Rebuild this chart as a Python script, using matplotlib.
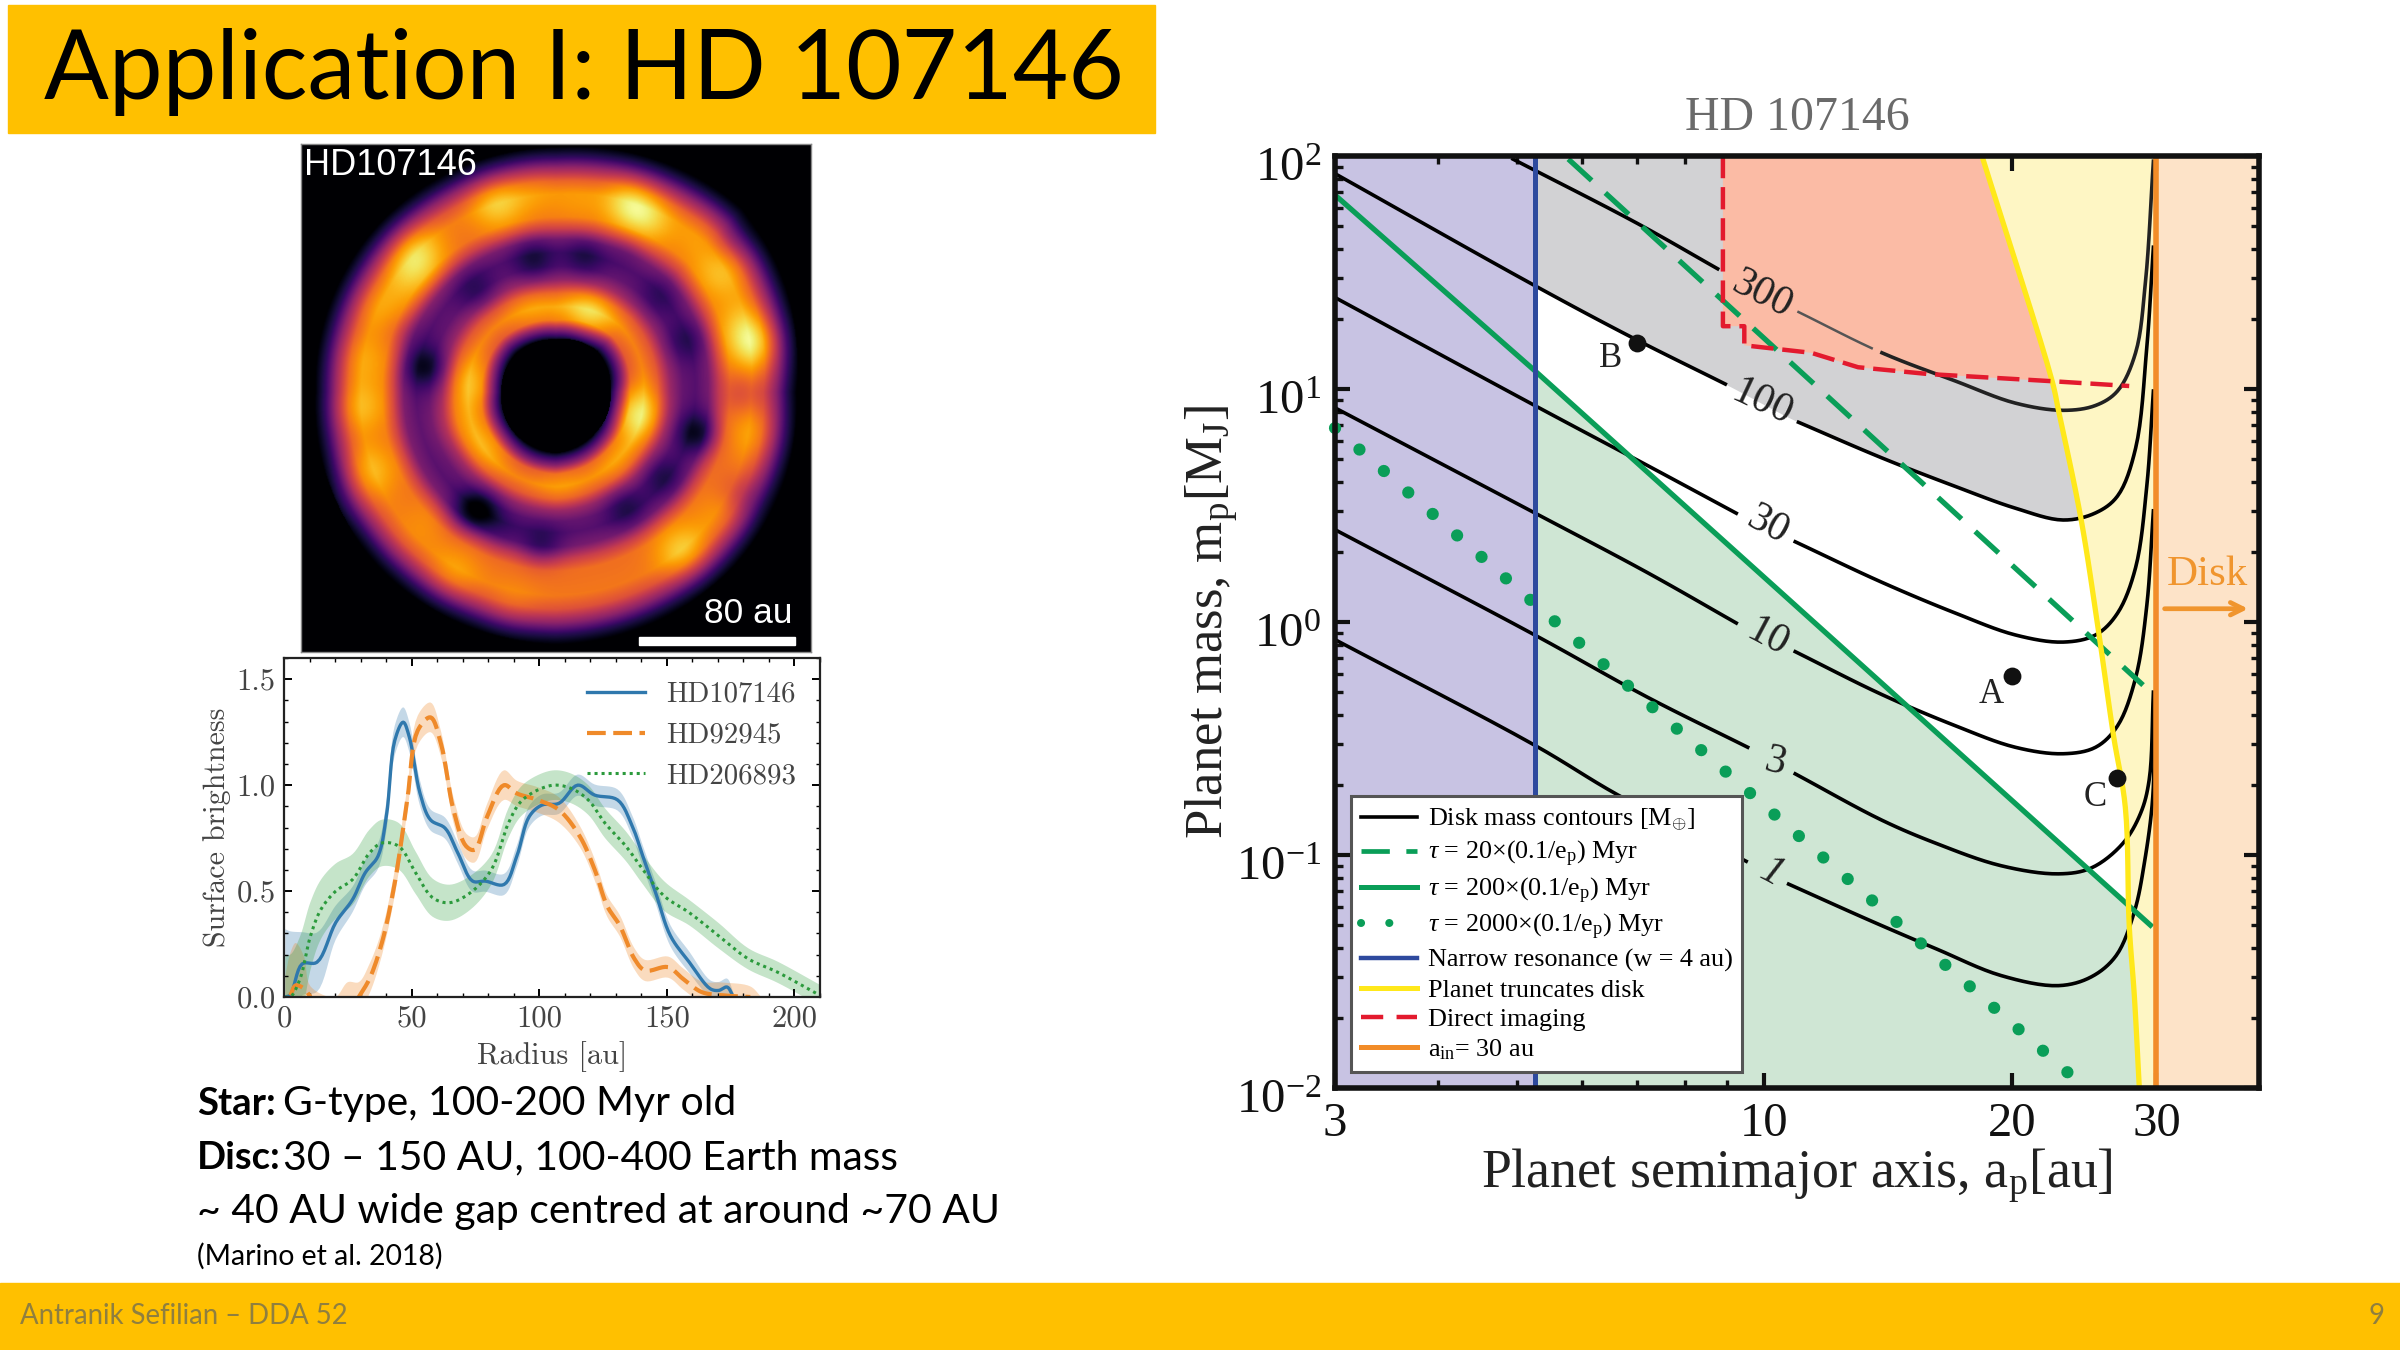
import numpy as np
import matplotlib
matplotlib.use("Agg")
import matplotlib.pyplot as plt
from matplotlib.patches import Rectangle
from matplotlib.lines import Line2D
from matplotlib.transforms import ScaledTranslation
from matplotlib.ticker import FixedLocator, NullFormatter, LogLocator, LogFormatterMathtext, MultipleLocator

plt.rcParams.update({
    "font.family": "Liberation Serif",
    "mathtext.fontset": "custom",
    "mathtext.rm": "Liberation Serif",
    "mathtext.it": "Liberation Serif:italic",
    "mathtext.bf": "Liberation Serif:bold",
    "axes.unicode_minus": False,
})

W, H = 2400, 1350
nan = np.nan

# ---------- slide text ----------
title_text = "Application I: HD 107146"
footer_left = "Antranik Sefilian – DDA 52"
footer_right = "9"
body_lines = [("Star:", "G-type, 100-200 Myr old"), ("Disc:", "30 – 150 AU, 100-400 Earth mass")]
body_plain = "~ 40 AU wide gap centred at around ~70 AU"
body_ref = "(Marino et al. 2018)"

# ---------- surface brightness profiles ----------
blue_r = [0.5, 2.5, 7.1, 12.9, 20.3, 26.9, 31.8, 36.8, 40.1, 43.4, 46.7, 49.1, 53.3, 57.4, 63.1, 68.1, 73.9, 78.8, 86.2, 91.2, 96.1, 101.1, 107.7, 115.1, 121.7, 130.7, 136.5, 140.6, 145.6, 151.4, 158.8, 167.0, 170.3, 173.6, 176.1]
blue_s = [0.0, 0.01, 0.156, 0.164, 0.352, 0.461, 0.586, 0.664, 0.852, 1.211, 1.297, 1.227, 0.961, 0.836, 0.797, 0.68, 0.547, 0.547, 0.531, 0.664, 0.852, 0.906, 0.914, 1.0, 0.953, 0.93, 0.805, 0.664, 0.492, 0.289, 0.164, 0.039, 0.031, 0.047, 0.0]
blue_e = [0.32, 0.3, 0.15, 0.14, 0.08, 0.06, 0.06, 0.06, 0.07, 0.07, 0.07, 0.07, 0.06, 0.05, 0.05, 0.05, 0.05, 0.05, 0.05, 0.05, 0.05, 0.05, 0.05, 0.05, 0.05, 0.05, 0.05, 0.05, 0.05, 0.05, 0.05, 0.04, 0.04, 0.04, 0.02]

orange_r = [0.5, 2.5, 4.6, 7.9, 10.4, 20.0, 25.0, 29.3, 33.5, 38.4, 43.4, 48.3, 52.4, 57.4, 61.5, 66.4, 71.4, 74.7, 79.6, 86.2, 91.2, 99.4, 107.7, 115.9, 121.7, 126.6, 131.6, 137.3, 141.5, 150.5, 156.3, 163.7, 172.0, 182.7, 187.0]
orange_s = [nan, 0.008, 0.055, 0.039, 0.0, nan, nan, 0.0, 0.086, 0.258, 0.539, 0.93, 1.258, 1.32, 1.195, 0.883, 0.711, 0.695, 0.852, 1.0, 0.961, 0.93, 0.883, 0.758, 0.602, 0.43, 0.336, 0.18, 0.125, 0.141, 0.086, 0.023, 0.008, 0.0, nan]
orange_b = [0.0, 0.008, 0.055, 0.039, 0.0, 0.0, 0.0, 0.0, 0.086, 0.258, 0.539, 0.93, 1.258, 1.32, 1.195, 0.883, 0.711, 0.695, 0.852, 1.0, 0.961, 0.93, 0.883, 0.758, 0.602, 0.43, 0.336, 0.18, 0.125, 0.141, 0.086, 0.023, 0.008, 0.0, 0.0]
orange_e = [0.1, 0.2, 0.2, 0.15, 0.05, 0.0, 0.07, 0.07, 0.07, 0.06, 0.06, 0.06, 0.07, 0.07, 0.06, 0.06, 0.06, 0.06, 0.06, 0.07, 0.06, 0.06, 0.06, 0.05, 0.05, 0.05, 0.05, 0.05, 0.05, 0.05, 0.05, 0.05, 0.06, 0.05, 0.0]

green_r = [0.5, 2.5, 6.3, 10.4, 14.5, 20.3, 26.9, 33.5, 38.4, 45.0, 51.6, 58.2, 64.8, 73.0, 81.3, 87.9, 92.8, 99.4, 106.0, 112.6, 119.2, 125.8, 134.0, 140.6, 148.9, 158.8, 170.3, 181.9, 193.4, 209.9]
green_s = [0.0, 0.0, 0.086, 0.289, 0.414, 0.5, 0.555, 0.68, 0.727, 0.711, 0.586, 0.469, 0.445, 0.492, 0.602, 0.82, 0.922, 0.977, 1.0, 0.984, 0.93, 0.82, 0.711, 0.602, 0.477, 0.398, 0.289, 0.18, 0.117, 0.008]
green_e = [0.2, 0.2, 0.2, 0.16, 0.14, 0.13, 0.12, 0.11, 0.11, 0.11, 0.1, 0.09, 0.085, 0.08, 0.07, 0.07, 0.07, 0.07, 0.07, 0.07, 0.07, 0.07, 0.07, 0.07, 0.07, 0.06, 0.06, 0.05, 0.05, 0.05]

# ---------- planet mass contours (semimajor axis au, mass M_J) ----------
c300_a = [4.94, 7.0, 8.77, 9.9, 11.0, 13.9, 17.1, 20.2, 23.1, 25.3, 26.9, 28.3, 29.1, 29.75]
c300_m = [97, 51.4, 32.8, nan, 21.4, 14.3, 10.8, 8.7, 8.1, 8.5, 9.8, 14.3, 29, 95]
c100_a = [3, 5.25, 6.93, 8.96, 9.9, 11.0, 13.9, 17.1, 20.2, 23.1, 25.3, 26.9, 28.3, 29.2, 29.75]
c100_m = [84, 27.8, 16.5, 10.5, nan, 7.2, 5.06, 3.81, 3.08, 2.74, 2.94, 3.47, 5.56, 15, 40.6]
c30_a = [3, 5.25, 7.2, 9.24, 10.0, 10.9, 13.9, 17.1, 20.2, 23.1, 25.3, 26.9, 28.3, 29.2, 29.75]
c30_m = [24.7, 8.5, 4.7, 2.93, nan, 2.21, 1.48, 1.09, 0.88, 0.82, 0.88, 1.09, 1.71, 3.81, 9.8]
c10_a = [3, 5.25, 7.2, 9.24, 10.0, 10.9, 13.9, 17.1, 20.2, 23.1, 25.3, 26.9, 28.3, 29.2, 29.75]
c10_m = [8.3, 2.94, 1.63, 0.99, nan, 0.746, 0.488, 0.358, 0.29, 0.272, 0.29, 0.358, 0.575, 1.17, 3.0]
c3_a = [3, 5.25, 7.2, 9.54, 10.2, 10.9, 13.9, 16.2, 19.4, 22.8, 25, 27.3, 28.7, 29.4, 29.75]
c3_m = [2.49, 0.88, 0.476, 0.29, nan, 0.223, 0.141, 0.112, 0.09, 0.083, 0.088, 0.112, 0.151, 0.21, 0.5]
c1_a = [3, 5.25, 6.63, 9.5, 10.2, 10.7, 13.5, 16.2, 19.4, 22.8, 25, 26.8, 28.2, 29, 29.7, 29.8]
c1_m = [0.84, 0.296, 0.181, 0.094, nan, 0.075, 0.052, 0.0395, 0.0304, 0.0275, 0.03, 0.037, 0.057, 0.092, 0.178, 0.4]
contour_label_text = ["300", "100", "30", "10", "3", "1"]
contour_label_a = [9.94, 9.94, 10.1, 10.1, 10.3, 10.2]
contour_label_m = [25.3, 8.7, 2.6, 0.86, 0.25, 0.084]

tau20_a = [5.77, 28.9]
tau20_m = [97, 0.536]
tau200_a = [3, 5.25, 29.5]
tau200_m = [68, 12, 0.05]
tau2000_a = [3, 24.2]
tau2000_m = [6.8, 0.0105]
res_a = 5.25
ain = 30
yellow_a = [18.4, 22.4, 22.8, 24.3, 25.5, 26.6, 27.5, 27.8, 28.2, 28.6]
yellow_m = [100, 10.8, 8.1, 2.74, 0.92, 0.326, 0.16, 0.05, 0.025, 0.01]
red_a = [8.9, 8.9, 9.45, 9.45, 11.4, 13, 15.8, 22.4, 27.8]
red_m = [100, 18.6, 18.6, 15.4, 14.3, 12.4, 11.6, 10.8, 10.3]
point_names = ["A", "B", "C"]
point_a = [20, 7, 26.9]
point_m = [0.589, 15.7, 0.213]
point_label_a = [18.9, 6.5, 25.3]
point_label_m = [0.488, 13.5, 0.176]

# ---------- disc image (units are picture units) ----------
radial_r = [0, 160, 195, 220, 260, 300, 340, 380, 420, 460, 495, 530, 600, 640, 680, 712, 745, 800, 1200]
radial_v = [0, 0.0, 0.34, 0.62, 0.72, 0.62, 0.40, 0.28, 0.25, 0.33, 0.54, 0.68, 0.70, 0.60, 0.38, 0.15, 0.0, 0, 0]
edge_theta = [0, 45, 90, 135, 180, 225, 270, 315, 360]
edge_scale = [0.96, 1.05, 0.99, 0.98, 0.96, 1.0, 1.02, 1.0, 0.96]
hole_scale = [1.0, 1.08, 0.98, 1.03, 1.0, 1.08, 1.14, 1.05, 1.0]
spot_x = [610, 720, 850, 1000, 1060, 380, 350, 1270, 1200, 1370, 1330, 275, 220, 210, 235, 170, 1370, 1160, 1270, 480, 650, 400, 880, 545, 1015, 590, 720, 960, 480, 800]
spot_y = [190, 150, 180, 190, 240, 340, 410, 400, 300, 610, 540, 510, 660, 800, 990, 1080, 880, 1230, 1120, 1300, 1400, 1150, 525, 730, 820, 910, 520, 960, 850, 1020]
spot_amp = [0.18, 0.07, 0.07, 0.2, 0.16, 0.18, 0.12, 0.15, 0.07, 0.24, 0.1, 0.1, 0.1, 0.14, 0.14, 0.05, 0.1, 0.18, 0.06, 0.1, 0.06, 0.06, 0.22, 0.15, 0.26, 0.12, 0.09, 0.08, 0.08, 0.07]
dark_x = [400, 555, 1210, 720, 870, 550, 1100, 990, 740, 1090, 1170, 1340, 1330, 500, 620, 1300, 1000, 330]
dark_y = [680, 1110, 880, 360, 350, 450, 1010, 1100, 1220, 470, 600, 760, 1060, 1130, 1180, 300, 320, 570]
dark_amp = [0.22, 0.26, 0.24, 0.16, 0.14, 0.12, 0.14, 0.14, 0.16, 0.1, 0.12, 0.1, 0.1, 0.08, 0.08, 0.08, 0.06, 0.07]


def smooth(x, y, sx=1.0, sy=1.0, n=8):
    """Centripetal Catmull-Rom through the read points; NaN splits a curve."""
    x, y = np.asarray(x, float), np.asarray(y, float)
    out_x, out_y = [], []
    good = np.isfinite(y)
    idx = np.where(good)[0]
    runs = np.split(idx, np.where(np.diff(idx) > 1)[0] + 1)
    for run in runs:
        if len(run) < 3:
            out_x += list(x[run]) + [nan]; out_y += list(y[run]) + [nan]
            continue
        p = np.c_[x[run] * sx, y[run] * sy]
        p = np.vstack([2 * p[0] - p[1], p, 2 * p[-1] - p[-2]])
        for i in range(1, len(p) - 2):
            p0, p1, p2, p3 = p[i - 1], p[i], p[i + 1], p[i + 2]
            t0 = 0.0
            t1 = t0 + max(np.linalg.norm(p1 - p0), 1e-6) ** 0.5
            t2 = t1 + max(np.linalg.norm(p2 - p1), 1e-6) ** 0.5
            t3 = t2 + max(np.linalg.norm(p3 - p2), 1e-6) ** 0.5
            for t in np.linspace(t1, t2, n, endpoint=False):
                a1 = (t1 - t) / (t1 - t0) * p0 + (t - t0) / (t1 - t0) * p1
                a2 = (t2 - t) / (t2 - t1) * p1 + (t - t1) / (t2 - t1) * p2
                a3 = (t3 - t) / (t3 - t2) * p2 + (t - t2) / (t3 - t2) * p3
                b1 = (t2 - t) / (t2 - t0) * a1 + (t - t0) / (t2 - t0) * a2
                b2 = (t3 - t) / (t3 - t1) * a2 + (t - t1) / (t3 - t1) * a3
                c = (t2 - t) / (t2 - t1) * b1 + (t - t1) / (t2 - t1) * b2
                out_x.append(c[0] / sx); out_y.append(c[1] / sy)
        out_x.append(x[run[-1]]); out_y.append(y[run[-1]])
        out_x.append(nan); out_y.append(nan)
    return np.array(out_x[:-1]), np.array(out_y[:-1])


def smooth_log(a, m):
    sa, sm = smooth(np.log10(a), np.log10(np.asarray(m, float)), sx=821.0, sy=233.0)
    return 10 ** sa, 10 ** sm


def box(l, t, r, b):
    return [l / W, 1 - b / H, (r - l) / W, (b - t) / H]


fig = plt.figure(figsize=(24, 13.5), dpi=100, facecolor="white")
amber = "#FFC000"
fig.patches.append(Rectangle((8 / W, 1 - 133 / H), 1147 / W, 128 / H, transform=fig.transFigure, color=amber, zorder=0))
fig.patches.append(Rectangle((0, 0), 1, 67 / H, transform=fig.transFigure, color=amber, zorder=0))
sans = "Lato"
fig.text(584 / W, 1 - 72 / H, title_text, family=sans, fontsize=69, color="black", ha="center", va="center")
fig.text(20 / W, 1 - 1316 / H, footer_left, family=sans, fontsize=19.8, color="#8F7F3F", va="center")
fig.text(2384 / W, 1 - 1316 / H, footer_right, family=sans, fontsize=19.8, color="#8F7F3F", va="center", ha="right")
for (b, rest), y in zip(body_lines, [1104, 1158]):
    fig.text(197 / W, 1 - y / H, b, family=sans, fontsize=27.5, weight="bold", va="center")
    fig.text(283 / W, 1 - y / H, rest, family=sans, fontsize=29.4, va="center")
fig.text(197 / W, 1 - 1212 / H, body_plain, family=sans, fontsize=29.4, va="center")
fig.text(197 / W, 1 - 1256 / H, body_ref, family=sans, fontsize=20.4, va="center")

# ---------- disc image ----------
axi = fig.add_axes(box(301, 144, 811, 652))
gx, gy = np.meshgrid(np.linspace(30, 1540, 520), np.linspace(8, 1535, 520))
dx, dy = gx - 785, gy - 755
rr = np.hypot(dx, dy)
th = np.degrees(np.arctan2(-dy, dx)) % 360
outer = (np.interp(th, edge_theta, edge_scale) - 1) * np.clip((rr - 300) / 300, 0, 1)
inner = (np.interp(th, edge_theta, hole_scale) - 1) * np.clip((420 - rr) / 200, 0, 1)
field = np.interp(rr / (1 + outer + inner), radial_r, radial_v)
mask = field > 0.02
for x0, y0, am in zip(spot_x, spot_y, spot_amp):
    field += am * np.exp(-((gx - x0) ** 2 + (gy - y0) ** 2) / (2 * 58.0 ** 2)) * mask
for x0, y0, am in zip(dark_x, dark_y, dark_amp):
    field -= am * np.exp(-((gx - x0) ** 2 + (gy - y0) ** 2) / (2 * 45.0 ** 2))
axi.imshow(np.clip(field, 0, 1), cmap="inferno", vmin=0, vmax=1, extent=[30, 1540, 1535, 8], aspect="auto", interpolation="bilinear")
axi.set_xticks([]); axi.set_yticks([])
for s in axi.spines.values():
    s.set_color("#888888"); s.set_linewidth(1)
axi.text(38, 72, "HD107146", color="white", family="Liberation Sans", fontsize=26, va="center")
axi.text(1485, 1420, "80 au", color="white", family="Liberation Sans", fontsize=25.5, va="center", ha="right")
axi.add_patch(Rectangle((1030, 1490), 462, 25, color="white"))

# ---------- profile panel ----------
cm = "cmr10"
axp = fig.add_axes(box(284, 658, 820, 997))
cb, co, cg = "#3d7fb0", "#ef8a2a", "#2f9e3f"
b_s, b_e = np.array(blue_s), np.array(blue_e)
o_b, o_e = np.array(orange_b), np.array(orange_e)
g_s, g_e = np.array(green_s), np.array(green_e)
for rad, low, high, col, al in [(blue_r, b_s - b_e, b_s + b_e, cb, 0.3), (orange_r, o_b - o_e, o_b + o_e, co, 0.3), (green_r, g_s - g_e, g_s + g_e, cg, 0.28)]:
    rl, yl = smooth(rad, low, sx=2.55, sy=212.0)
    rh, yh = smooth(rad, high, sx=2.55, sy=212.0)
    axp.fill(np.r_[rl, rh[::-1]], np.r_[yl, yh[::-1]], color=col, alpha=al, lw=0)
rx, ry = smooth(blue_r, blue_s, sx=2.55, sy=212.0)
axp.plot(rx, ry, color="#2f78ad", lw=2.4, label="HD107146")
rx, ry = smooth(orange_r, orange_s, sx=2.55, sy=212.0)
axp.plot(rx, ry, color=co, lw=3, ls=(0, (4.5, 1.8)), label="HD92945")
rx, ry = smooth(green_r, green_s, sx=2.55, sy=212.0)
axp.plot(rx, ry, color="#2b9a3c", lw=2.2, ls=(0, (1, 1.3)), label="HD206893")
axp.set_xlim(0, 210); axp.set_ylim(0, 1.6)
axp.set_xticks([0, 50, 100, 150, 200]); axp.set_yticks([0, 0.5, 1.0, 1.5])
axp.set_yticklabels(["0.0", "0.5", "1.0", "1.5"])
axp.xaxis.set_minor_locator(MultipleLocator(10)); axp.yaxis.set_minor_locator(MultipleLocator(0.1))
axp.tick_params(which="major", direction="in", top=True, right=True, length=6, width=1.4, labelsize=22, labelcolor="#444444", pad=6)
axp.tick_params(which="minor", direction="in", top=True, right=True, length=3, width=1)
for lab in axp.get_xticklabels() + axp.get_yticklabels():
    lab.set_family(cm)
for s in axp.spines.values():
    s.set_linewidth(1.6); s.set_color("#222222")
axp.set_xlabel("Radius [au]", family=cm, fontsize=21.8, color="#444444", labelpad=6)
axp.set_ylabel("Surface brightness", family=cm, fontsize=21.6, color="#444444", labelpad=4)
lg = axp.legend(loc="upper right", frameon=False, prop={"family": cm, "size": 20.7}, handlelength=2.0, labelspacing=0.5, handletextpad=0.75, borderaxespad=0.42)
for t in lg.get_texts():
    t.set_color("#444444")

# ---------- planet mass panel ----------
ax = fig.add_axes(box(1335, 156, 2259, 1088))
ax.set_xscale("log"); ax.set_yscale("log")
ax.set_xlim(3, 40); ax.set_ylim(0.01, 100)

ca100, cm100 = np.array(c100_a), np.array(c100_m)
fin = np.isfinite(cm100)
ga, gm = smooth_log(ca100[fin], cm100[fin])
keep = ga >= res_a
ax.fill_between(ga[keep], gm[keep], 100, color="#d2d2d4", lw=0, zorder=1)
ax.fill_between(tau200_a[1:], 0.01, tau200_m[1:], color="#cfe6d4", lw=0, zorder=1)
ax.axvspan(3, res_a, color="#c8c3e3", lw=0, zorder=1.1)
ya, ym = smooth_log(yellow_a, yellow_m)
ax.fill_betweenx(ym, ya, ain, color="#fef6c4", lw=0, zorder=1.5)
ax.axvspan(ain, 40, color="#fde3c8", lw=0, zorder=1.1)
upper = ym >= red_m[7]
ax.fill(np.r_[red_a[:8], ya[upper][::-1]], np.r_[red_m[:8], ym[upper][::-1]], color="#fbbba5", lw=0, zorder=1.6)

lw_c = 2.6
for a_, m_ in [(c100_a, c100_m), (c30_a, c30_m), (c10_a, c10_m), (c3_a, c3_m), (c1_a, c1_m)]:
    sa, sm = smooth_log(a_, m_)
    ax.plot(sa, sm, color="black", lw=lw_c, zorder=3)
sa, sm = smooth_log(c300_a, c300_m)
left = sa < 10
mid = (sa >= 10) & (sa <= 13.9)
right = sa >= 13.9
ax.plot(sa[left], sm[left], color="black", lw=lw_c, zorder=3)
ax.plot(sa[mid], sm[mid], color="#555555", lw=1.8, zorder=3)
ax.plot(sa[right], sm[right], color="#222222", lw=lw_c, zorder=3)

green = "#0a9e58"
ax.plot(tau20_a, tau20_m, color=green, lw=3.8, ls=(0, (6, 3.5)), zorder=4)
ax.plot(tau200_a, tau200_m, color=green, lw=3.8, zorder=4)
ax.plot(tau2000_a, tau2000_m, color=green, lw=8.8, ls=(0, (0.01, 2.65)), dash_capstyle="round", zorder=4, clip_on=False)
ax.axvline(res_a, color="#2e4a9e", lw=3.6, zorder=4)
ax.plot(ya, ym, color="#ffe81a", lw=3.8, zorder=4)
ax.plot(red_a, red_m, color="#e31a2e", lw=3.2, ls=(0, (5, 2)), zorder=4.1)
ax.axvline(ain, color="#f28c28", lw=4, zorder=4)

rots = [-27, -25, -28, -28, -14, -28]
for tx, xa, ym_, rt in zip(contour_label_text, contour_label_a, contour_label_m, rots):
    ax.text(xa, ym_, tx, fontsize=30, style="italic" if tx == "1" else "normal", rotation=rt, ha="center", va="center", color="#222222", zorder=5)
ax.scatter(point_a, point_m, s=165, color="#111111", zorder=6, lw=0)
for nm, xa, ym_ in zip(point_names, point_label_a, point_label_m):
    ax.text(xa, ym_, nm, fontsize=25, ha="center", va="center", color="#222222", zorder=6)
ax.text(34.6, 1.6, "Disk", fontsize=31, color="#f0952e", ha="center", va="center", zorder=6)
ax.annotate("", xy=(38.8, 1.14), xytext=(30.7, 1.14), zorder=6,
            arrowprops=dict(arrowstyle="->,head_length=0.9,head_width=0.45", color="#f0952e", lw=3.4, shrinkA=0, shrinkB=0))

ax.xaxis.set_major_locator(FixedLocator([3, 10, 20, 30]))
ax.xaxis.set_minor_locator(FixedLocator([4, 5, 6, 7, 8, 9]))
ax.xaxis.set_major_formatter(plt.FuncFormatter(lambda v, p: f"{v:g}"))
ax.xaxis.set_minor_formatter(NullFormatter())
ax.yaxis.set_major_locator(LogLocator(10, numticks=6))
ax.yaxis.set_minor_locator(LogLocator(10, subs=np.arange(2, 10), numticks=12))
ax.yaxis.set_major_formatter(LogFormatterMathtext())
ax.yaxis.set_minor_formatter(NullFormatter())
ax.tick_params(which="major", direction="in", top=True, right=True, length=11, width=3, labelsize=35, pad=10, zorder=7, colors="#111111")
ax.tick_params(which="minor", direction="in", top=True, right=True, length=6, width=2.4, colors="#111111")
fig.canvas.draw()
shift = ScaledTranslation(0, -8 / 100, fig.dpi_scale_trans)
for lab in ax.get_yticklabels():
    lab.set_transform(lab.get_transform() + shift)
for s in ax.spines.values():
    s.set_linewidth(4); s.set_color("#111111"); s.set_zorder(8)
ax.set_title("HD 107146", fontsize=34.5, color="#6a6a6a", pad=19)
ax.set_xlabel(r"Planet semimajor axis, a$_{\mathrm{p}}$[au]", fontsize=38.8, color="#222222", labelpad=1)
ax.set_ylabel(r"Planet mass, m$_{\mathrm{p}}$[M$_{\mathrm{J}}$]", fontsize=38, color="#222222", labelpad=-3)

handles = [
    Line2D([], [], color="black", lw=2.6),
    Line2D([], [], color=green, lw=3.4, ls=(0, (6, 3.5))),
    Line2D([], [], color=green, lw=3.6),
    Line2D([], [], color=green, lw=5.8, ls=(0, (0.01, 3.5)), dash_capstyle="round"),
    Line2D([], [], color="#2e4a9e", lw=3.2),
    Line2D([], [], color="#ffe81a", lw=3.6),
    Line2D([], [], color="#e31a2e", lw=3.2, ls=(0, (5, 3))),
    Line2D([], [], color="#f28c28", lw=3.6),
]
labels = [
    r"Disk mass contours [M$_{\oplus}$]",
    r"$\tau$ = 20×(0.1/e$_{\mathrm{p}}$) Myr",
    r"$\tau$ = 200×(0.1/e$_{\mathrm{p}}$) Myr",
    r"$\tau$ = 2000×(0.1/e$_{\mathrm{p}}$) Myr",
    "Narrow resonance (w = 4 au)",
    "Planet truncates disk",
    "Direct imaging",
    r"a$_{\mathrm{in}}$= 30 au",
]
leg = ax.legend(handles, labels, loc="lower left", bbox_to_anchor=(1351 / W, 1 - 1072 / H), bbox_transform=fig.transFigure,
                fontsize=18.8, frameon=True, fancybox=False, framealpha=1, edgecolor="#555555", handlelength=2.15,
                handletextpad=0.4, labelspacing=0.24, borderpad=0.38, borderaxespad=0)
leg.get_frame().set_linewidth(2.2)
leg.set_zorder(9)

fig.savefig("out.png", dpi=100)
